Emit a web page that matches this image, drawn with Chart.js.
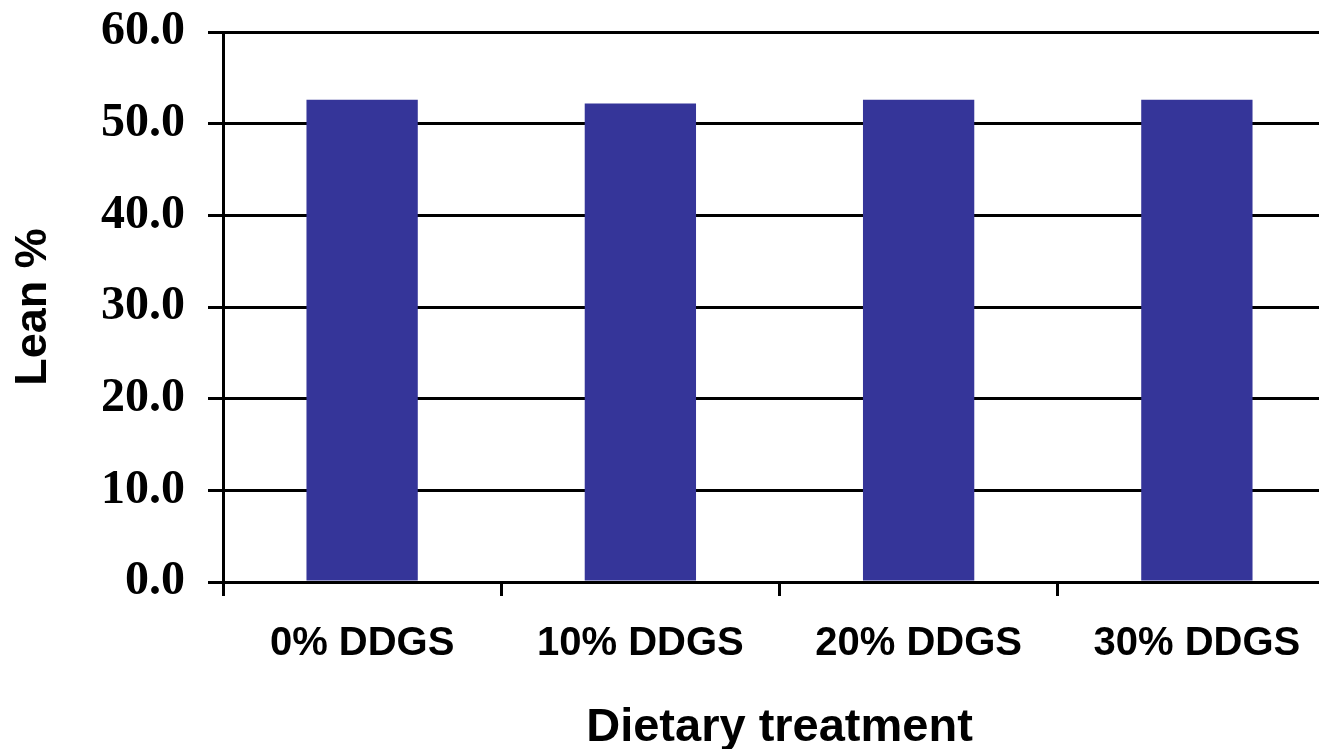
<!DOCTYPE html>
<html>
<head>
<meta charset="utf-8">
<script src="https://cdn.jsdelivr.net/npm/chart.js@4"></script>
<style>
    html, body { margin: 0; padding: 0; background: #fff; overflow: hidden; }
    /* plot runs slightly past the right edge in the original, so the box is wider than the window */
    #wrap { width: 1336px; height: 749px; position: relative; }
</style>
</head>
<body>
<div id="wrap"><canvas id="leanChart"></canvas></div>
<script>
// Data
const treatments = ["0% DDGS", "10% DDGS", "20% DDGS", "30% DDGS"];
const leanPct = [52.6, 52.2, 52.6, 52.6];
const yTicks = [0, 10, 20, 30, 40, 50, 60];

const ctx = document.getElementById('leanChart').getContext('2d');

new Chart(ctx, {
    type: 'bar',
    data: {
        labels: treatments,
        datasets: [{
            label: 'Lean %',
            data: leanPct,
            backgroundColor: '#353599',
            borderWidth: 0,
            categoryPercentage: 1.0,
            barPercentage: 0.4
        }]
    },
    options: {
        responsive: true,
        maintainAspectRatio: false,
        animation: false,
        layout: { padding: { top: 32, right: 0, bottom: 0, left: 0 } },
        plugins: {
            legend: { display: false },
            tooltip: { enabled: false }
        },
        scales: {
            x: {
                grid: {
                    offset: true,
                    drawOnChartArea: false,
                    color: '#000',
                    lineWidth: 3,
                    tickLength: 14
                },
                border: { color: '#000', width: 3 },
                ticks: {
                    color: '#000',
                    padding: 24,
                    font: { family: 'Liberation Sans, Arial, sans-serif', weight: 'bold', size: 40 }
                },
                title: {
                    display: true,
                    text: 'Dietary treatment',
                    color: '#000',
                    padding: { top: 0, bottom: 2 },
                    font: { family: 'Liberation Sans, Arial, sans-serif', weight: 'bold', size: 47, lineHeight: 0.8 }
                },
                afterFit: (scale) => {
                    scale.height = 167;
                    scale.paddingLeft = 0;
                    scale.paddingRight = 0;
                }
            },
            y: {
                min: 0,
                max: 60,
                afterBuildTicks: (scale) => { scale.ticks = yTicks.map(v => ({ value: v })); },
                grid: {
                    color: '#000',
                    lineWidth: 3,
                    tickLength: 15
                },
                border: { color: '#000', width: 3 },
                ticks: {
                    color: '#000',
                    padding: 23,
                    callback: (v) => Number(v).toFixed(1),
                    font: { family: 'Liberation Serif, Times New Roman, serif', weight: 'bold', size: 48 }
                },
                title: {
                    display: true,
                    text: 'Lean %',
                    color: '#000',
                    padding: { top: 7, bottom: 0 },
                    font: { family: 'Liberation Sans, Arial, sans-serif', weight: 'bold', size: 45 }
                },
                afterFit: (scale) => {
                    scale.width = 223;
                    scale.paddingTop = 0;
                    scale.paddingBottom = 0;
                }
            }
        }
    }
});
</script>
</body>
</html>
